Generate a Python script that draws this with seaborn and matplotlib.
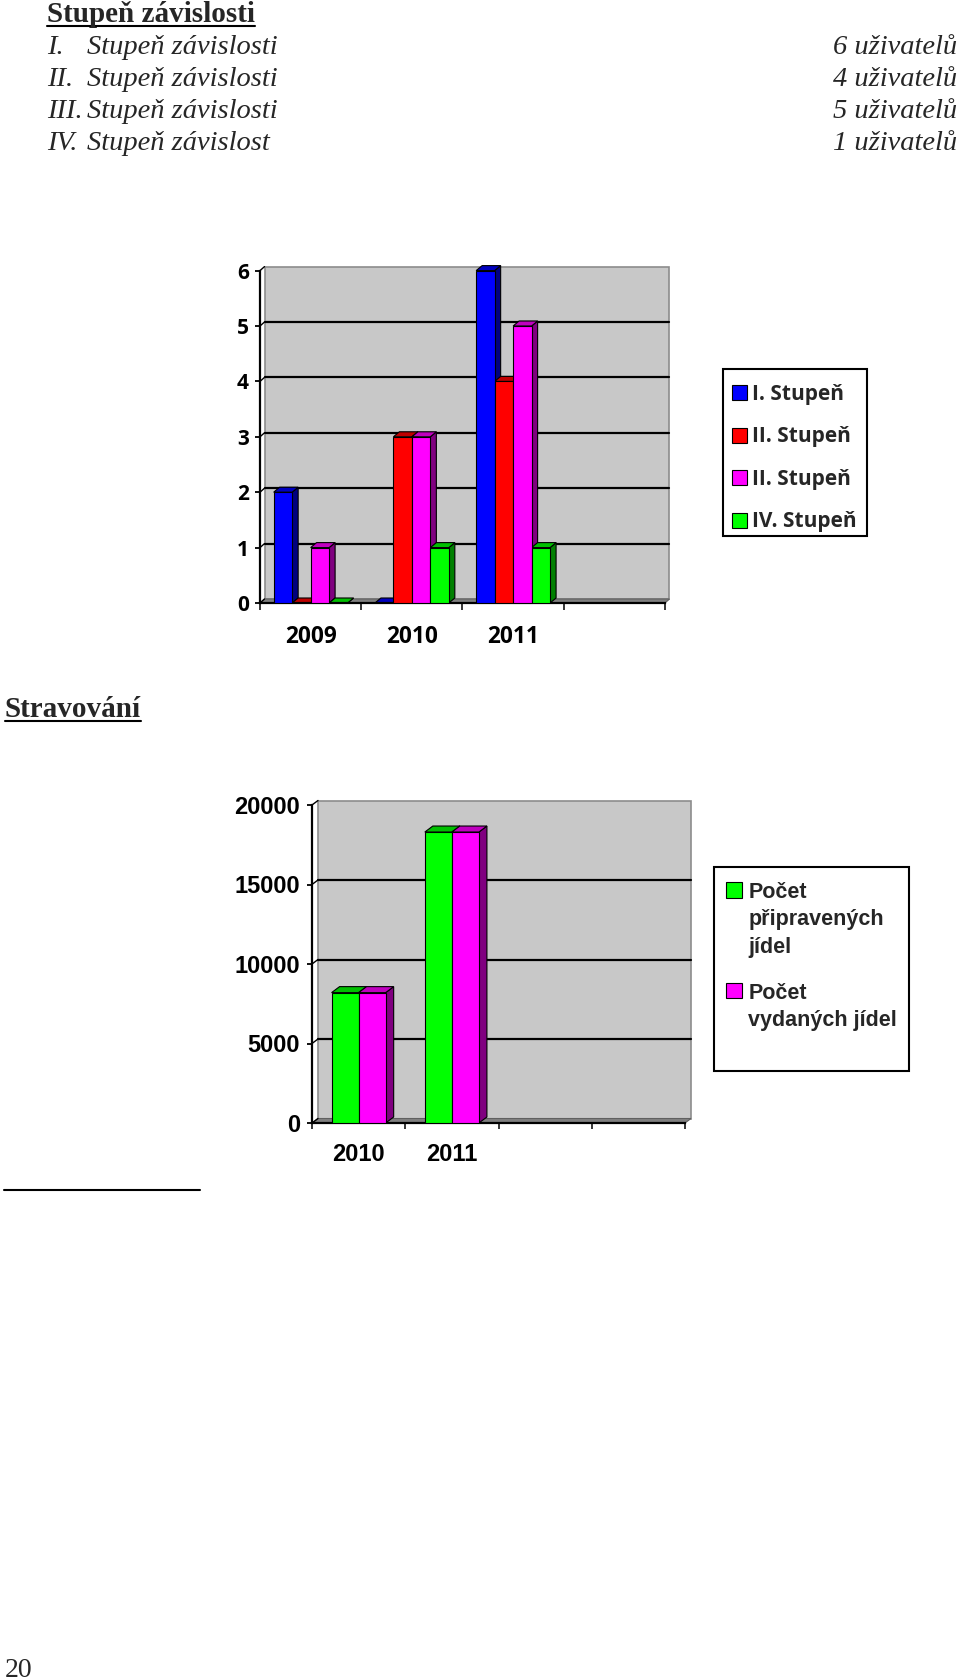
import numpy as np
import pandas as pd
import matplotlib
matplotlib.use("Agg")
import matplotlib.pyplot as plt
import seaborn as sns
from matplotlib.patches import Polygon, Rectangle
from matplotlib.lines import Line2D

# ---------------- data ----------------
heading1 = "Stupeň závislosti"
level_numerals = ["I.", "II.", "III.", "IV."]
level_names = ["Stupeň závislosti", "Stupeň závislosti", "Stupeň závislosti", "Stupeň závislost"]
level_counts = [6, 4, 5, 1]
count_unit = "uživatelů"

years_dep = ["2009", "2010", "2011"]
dep_series = ["I", "II", "III", "IV"]
dep_labels = ["I. Stupeň", "II. Stupeň", "II. Stupeň", "IV. Stupeň"]
dep_I = [2, 0, 6]
dep_II = [0, 3, 4]
dep_III = [1, 3, 5]
dep_IV = [0, 1, 1]
dep_colors = ["#0000FF", "#FF0000", "#FF00FF", "#00FF00"]
dep_yticks = [0, 1, 2, 3, 4, 5, 6]

heading2 = "Stravování"
years_meal = ["2010", "2011"]
meal_series = ["prepared", "served"]
meal_labels = ["Počet\npřipravených\njídel", "Počet\nvydaných jídel"]
meals_prepared = [8200, 18300]
meals_served = [8200, 18300]
meal_colors = ["#00FF00", "#FF00FF"]
meal_yticks = [0, 5000, 10000, 15000, 20000]

page_number = "20"

# ---------------- setup ----------------
W, H = 960, 1680
sns.set_theme(style="white")
plt.rcParams["font.family"] = ["DejaVu Sans"]
fig = plt.figure(figsize=(W / 100, H / 100), dpi=100)
fig.patch.set_facecolor("white")


def fx(x):
    return x / W


def fy(y):
    return 1 - y / H


def shade(c, f):
    r, g, b, a = c
    return (r * f, g * f, b * f, 1)


def chart3d(rect_px, df, order, hue_order, colors, width, n_slots, ymax, yticks,
            wall_px, depth_px, fam, ysize, xsize, ypad, ylen, xpad, xlen):
    x0, x1, ytop, ybot = rect_px
    ax = fig.add_axes([fx(x0), fy(ybot), (x1 - x0) / W, (ybot - ytop) / H])
    ax.set_facecolor("none")
    pal = dict(zip(hue_order, colors))
    sns.barplot(data=df, x="year", y="value", hue="series", order=order,
                hue_order=hue_order, palette=pal, width=width, saturation=1,
                edgecolor="black", linewidth=0.8, ax=ax, zorder=3, legend=True)
    ax.set_xlim(-0.5, n_slots - 0.5)
    ax.set_ylim(0, ymax)
    axw = x1 - x0
    axh = ybot - ytop
    wdx = wall_px[0] / axw * n_slots
    wdy = wall_px[1] / axh * ymax
    bdx = depth_px[0] / axw * n_slots
    bdy = depth_px[1] / axh * ymax

    bars = sorted([p for p in ax.patches if isinstance(p, Rectangle)], key=lambda p: p.get_x())
    for p in bars:
        bx, w, h = p.get_x(), p.get_width(), p.get_height()
        fc = p.get_facecolor()
        side = Polygon([(bx + w, 0), (bx + w, h), (bx + w + bdx, h + bdy), (bx + w + bdx, bdy)],
                       closed=True, fc=shade(fc, 0.5), ec="black", lw=0.8, zorder=2.5, clip_on=False)
        top = Polygon([(bx, h), (bx + w, h), (bx + w + bdx, h + bdy), (bx + bdx, h + bdy)],
                      closed=True, fc=shade(fc, 0.75), ec="black", lw=0.8, zorder=2.5, clip_on=False)
        ax.add_patch(side)
        ax.add_patch(top)

    # back wall and floor
    ax.add_patch(Rectangle((-0.5 + wdx, wdy), n_slots, ymax, fc="#c8c8c8", ec="#8c8c8c",
                           lw=1.2, zorder=0.5, clip_on=False))
    ax.add_patch(Polygon([(-0.5, 0), (n_slots - 0.5, 0), (n_slots - 0.5 + wdx, wdy), (-0.5 + wdx, wdy)],
                         closed=True, fc="#808080", ec="#606060", lw=0.8, zorder=1, clip_on=False))
    for v in yticks[1:-1]:
        ax.plot([-0.5 + wdx, n_slots - 0.5 + wdx], [v + wdy, v + wdy], color="black", lw=1.6,
                zorder=1, clip_on=False)
    for v in yticks:
        ax.plot([-0.5, -0.5 + wdx], [v, v + wdy], color="black", lw=1.0, zorder=1, clip_on=False)

    for s in ["top", "right"]:
        ax.spines[s].set_visible(False)
    for s in ["left", "bottom"]:
        ax.spines[s].set_color("black")
        ax.spines[s].set_linewidth(1.6)
    ax.set_xlabel("")
    ax.set_ylabel("")
    ax.set_yticks(yticks)
    ax.set_yticklabels([str(v) for v in yticks])
    ax.tick_params(axis="y", direction="out", length=ylen, width=1.3, pad=ypad,
                   labelsize=ysize, colors="black", left=True)
    ax.set_xticks(np.arange(-0.5, n_slots, 1.0))
    ax.set_xticklabels([""] * (n_slots + 1))
    ax.set_xticks(np.arange(n_slots), minor=True)
    ax.set_xticklabels(order + [""] * (n_slots - len(order)), minor=True)
    ax.tick_params(axis="x", which="major", direction="out", length=xlen, width=1.3, bottom=True)
    ax.tick_params(axis="x", which="minor", length=0, pad=xpad, labelsize=xsize, colors="black")
    for lab in ax.get_yticklabels() + ax.get_xticklabels(minor=True):
        lab.set_fontfamily(fam)
        lab.set_fontweight("bold")
    return ax


# ---------------- chart 1 ----------------
dep_df = pd.DataFrame({
    "year": years_dep * 4,
    "series": np.repeat(dep_series, len(years_dep)),
    "value": dep_I + dep_II + dep_III + dep_IV,
})
ax1 = chart3d((260, 665, 270.6, 603), dep_df, years_dep, dep_series, dep_colors, 0.73, 4, 6,
              dep_yticks, (4.5, 4), (6, 5), "Open Sans", 15, 16.3, 4.5, 3.5, 16, 5)
h1 = ax1.get_legend().legend_handles
ax1.legend(h1, dep_labels, loc="upper left", bbox_to_anchor=(fx(732), fy(384)),
           bbox_transform=fig.transFigure, frameon=False, borderpad=0, borderaxespad=0,
           handlelength=0.72, handleheight=0.72, handletextpad=0.25, labelspacing=1.03,
           prop={"family": "Open Sans", "weight": "bold", "size": 15})
fig.add_artist(Rectangle((fx(723), fy(536)), (867 - 723) / W, (536 - 369) / H,
                         transform=fig.transFigure, fill=False, ec="black", lw=1.5))

# ---------------- chart 2 ----------------
meal_df = pd.DataFrame({
    "year": years_meal * 2,
    "series": np.repeat(meal_series, len(years_meal)),
    "value": meals_prepared + meals_served,
})
ax2 = chart3d((312, 685, 805, 1123), meal_df, years_meal, meal_series, meal_colors, 0.58, 4, 20000,
              meal_yticks, (6, 4.5), (8, 6), "Liberation Sans", 17, 17, 5, 3.6, 14.4, 4.3)
h2 = ax2.get_legend().legend_handles
leg2 = ax2.legend(h2, meal_labels, loc="upper left", bbox_to_anchor=(fx(726), fy(882)),
                  bbox_transform=fig.transFigure, frameon=False, borderpad=0, borderaxespad=0,
                  handlelength=0.74, handleheight=0.74, handletextpad=0.3, labelspacing=1.15,
                  prop={"family": "Liberation Sans", "weight": "bold", "size": 15.5})
for t in leg2.get_texts():
    t.set_linespacing(1.4)
try:
    for col in leg2._legend_handle_box.get_children():
        for row in col.get_children():
            row.align = "top"
except Exception:
    pass
fig.add_artist(Rectangle((fx(714), fy(1071)), (909 - 714) / W, (1071 - 867) / H,
                         transform=fig.transFigure, fill=False, ec="black", lw=1.5))

# ---------------- page text ----------------
serif = "Liberation Serif"
t_head1 = fig.text(fx(47), fy(22), heading1, family=serif, weight="bold", size=21, va="baseline")
for i, (num, name, cnt) in enumerate(zip(level_numerals, level_names, level_counts)):
    yb = 54 + 32 * i
    fig.text(fx(47), fy(yb), num, family=serif, style="italic", size=20.5, va="baseline")
    fig.text(fx(87), fy(yb), name, family=serif, style="italic", size=20.5, va="baseline")
    fig.text(fx(957), fy(yb), f"{cnt} {count_unit}", family=serif, style="italic", size=20.5,
             va="baseline", ha="right")
t_head2 = fig.text(fx(5), fy(717), heading2, family=serif, weight="bold", size=21, va="baseline")
fig.add_artist(Line2D([fx(4), fx(200)], [fy(1190), fy(1190)], color="black", lw=1.5,
                      transform=fig.transFigure))
fig.text(fx(5), fy(1677), page_number, family=serif, size=20, va="baseline")

fig.canvas.draw()
rend = fig.canvas.get_renderer()
inv = fig.transFigure.inverted()
for t in [t_head1, t_head2]:
    bb = t.get_window_extent(rend)
    ybase = t.get_transform().transform(t.get_position())[1]
    (a0, b0), (a1, b1) = inv.transform([(bb.x0, ybase - 3.5), (bb.x1, ybase - 3.5)])
    fig.add_artist(Line2D([a0, a1], [b0, b1], color="black", lw=1.5, transform=fig.transFigure))

fig.savefig("out.png", dpi=100, facecolor="white")
